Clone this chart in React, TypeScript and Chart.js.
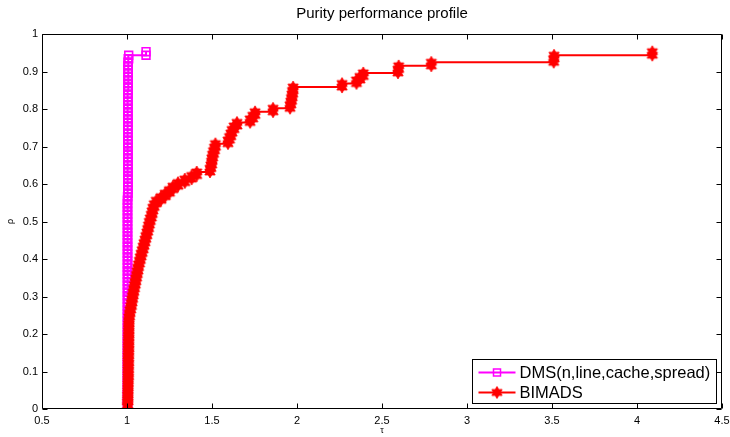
import React, { useEffect, useRef } from 'react';
import { Chart, registerables } from 'chart.js';

Chart.register(...registerables);

const TITLE = 'Purity performance profile';
const X_LABEL = 'τ';
const Y_LABEL = 'ρ';
const SERIES_NAMES = ['DMS(n,line,cache,spread)', 'BIMADS'];
const SERIES_COLORS = ['#ff00ff', '#ff0000'];
const X_TICKS = [0.5, 1, 1.5, 2, 2.5, 3, 3.5, 4, 4.5];
const Y_TICKS = [0, 0.1, 0.2, 0.3, 0.4, 0.5, 0.6, 0.7, 0.8, 0.9, 1];

// fraction of problems solved (rho) for problem k = 1..101
const rhoLevels = [
  0.0094, 0.0189, 0.0283, 0.0377, 0.0472, 0.0566, 0.0660, 0.0755, 0.0849, 0.0943,
  0.1038, 0.1132, 0.1226, 0.1321, 0.1415, 0.1509, 0.1604, 0.1698, 0.1792, 0.1887,
  0.1981, 0.2075, 0.2170, 0.2264, 0.2358, 0.2453, 0.2547, 0.2642, 0.2736, 0.2830,
  0.2925, 0.3019, 0.3113, 0.3208, 0.3302, 0.3396, 0.3491, 0.3585, 0.3679, 0.3774,
  0.3868, 0.3962, 0.4057, 0.4151, 0.4245, 0.4340, 0.4434, 0.4528, 0.4623, 0.4717,
  0.4811, 0.4906, 0.5000, 0.5094, 0.5189, 0.5283, 0.5377, 0.5472, 0.5566, 0.5660,
  0.5755, 0.5849, 0.5943, 0.6038, 0.6132, 0.6226, 0.6321, 0.6415, 0.6509, 0.6604,
  0.6698, 0.6792, 0.6887, 0.6981, 0.7075, 0.7170, 0.7264, 0.7358, 0.7453, 0.7547,
  0.7642, 0.7736, 0.7830, 0.7925, 0.8019, 0.8113, 0.8208, 0.8302, 0.8396, 0.8491,
  0.8585, 0.8679, 0.8774, 0.8868, 0.8962, 0.9057, 0.9151, 0.9245, 0.9340, 0.9434,
  0.9528,
];

// performance ratio (tau) at which each level is reached
const dmsTau = [
  1.003, 1.003, 1.003, 1.003, 1.003, 1.003, 1.003, 1.003, 1.003, 1.003,
  1.003, 1.003, 1.003, 1.003, 1.003, 1.003, 1.003, 1.003, 1.003, 1.003,
  1.003, 1.003, 1.003, 1.003, 1.003, 1.003, 1.003, 1.003, 1.003, 1.003,
  1.003, 1.003, 1.003, 1.003, 1.003, 1.003, 1.003, 1.003, 1.003, 1.003,
  1.003, 1.003, 1.003, 1.003, 1.003, 1.003, 1.003, 1.003, 1.003, 1.003,
  1.003, 1.003, 1.003, 1.003, 1.003, 1.003, 1.003, 1.003, 1.003, 1.003,
  1.005, 1.005, 1.005, 1.005, 1.005, 1.005, 1.005, 1.005, 1.005, 1.005,
  1.005, 1.005, 1.005, 1.005, 1.005, 1.005, 1.005, 1.005, 1.005, 1.005,
  1.005, 1.005, 1.005, 1.005, 1.005, 1.005, 1.005, 1.005, 1.005, 1.005,
  1.007, 1.007, 1.007, 1.007, 1.007, 1.007, 1.007, 1.007, 1.007, 1.010,
  1.112,
];

const bimadsTau = [
  1.004, 1.004, 1.005, 1.005, 1.005, 1.006, 1.006, 1.006, 1.007, 1.007,
  1.007, 1.007, 1.008, 1.008, 1.008, 1.008, 1.009, 1.009, 1.009, 1.009,
  1.010, 1.010, 1.010, 1.011, 1.011, 1.012, 1.014, 1.018, 1.022, 1.026,
  1.029, 1.033, 1.036, 1.040, 1.044, 1.048, 1.052, 1.056, 1.060, 1.064,
  1.068, 1.073, 1.078, 1.083, 1.089, 1.095, 1.100, 1.106, 1.111, 1.117,
  1.122, 1.127, 1.131, 1.137, 1.143, 1.148, 1.152, 1.160, 1.172, 1.200,
  1.225, 1.250, 1.270, 1.300, 1.340, 1.380, 1.410, 1.488, 1.494, 1.498,
  1.500, 1.504, 1.509, 1.515, 1.520, 1.594, 1.603, 1.611, 1.618, 1.630,
  1.647, 1.724, 1.740, 1.753, 1.859, 1.959, 1.964, 1.968, 1.971, 1.974,
  1.977, 2.265, 2.350, 2.370, 2.390, 2.594, 2.598, 2.790, 3.510, 3.512,
  4.090,
];

const FONT = '"Liberation Sans", Arial, Helvetica, sans-serif';

// MATLAB-style stairs expansion: vertices of the step curve
function stairs(tau: number[], rho: number[]) {
  const pts: { x: number; y: number }[] = [{ x: tau[0], y: rho[0] }];
  for (let i = 1; i < tau.length; i++) {
    pts.push({ x: tau[i], y: rho[i - 1] });
    pts.push({ x: tau[i], y: rho[i] });
  }
  return pts;
}

function makeHexagram(color: string, R: number) {
  const s = Math.ceil(R * 2 + 2);
  const c = document.createElement('canvas');
  c.width = s;
  c.height = s;
  const g = c.getContext('2d')!;
  const cx = s / 2;
  const cy = s / 2;
  const r = R / Math.sqrt(3);
  g.beginPath();
  for (let i = 0; i < 12; i++) {
    const ang = -Math.PI / 2 + (i * Math.PI) / 6;
    const rad = i % 2 === 0 ? R : r;
    const px = cx + rad * Math.cos(ang);
    const py = cy + rad * Math.sin(ang);
    if (i === 0) g.moveTo(px, py);
    else g.lineTo(px, py);
  }
  g.closePath();
  g.fillStyle = color;
  g.fill();
  g.strokeStyle = color;
  g.lineWidth = 0.8;
  g.stroke();
  return c;
}

export default function App() {
  const ref = useRef<HTMLCanvasElement>(null);

  useEffect(() => {
    const canvas = ref.current!;
    const hex = makeHexagram(SERIES_COLORS[1], 6);

    const framePlugin = {
      id: 'matlabFrame',
      afterLayout(chart: any) {
        const t = chart.titleBlock;
        if (t) {
          t.left = chart.chartArea.left;
          t.right = chart.chartArea.right;
          t.width = t.right - t.left;
        }
      },
      afterDraw(chart: any) {
        const { ctx, chartArea: a, scales } = chart;
        const L = Math.round(a.left) + 0.5;
        const R = Math.round(a.right) - 0.5;
        const T = Math.round(a.top) + 0.5;
        const B = Math.round(a.bottom) - 0.5;
        const TL = 5;
        ctx.save();
        ctx.strokeStyle = '#000';
        ctx.lineWidth = 1;
        ctx.beginPath();
        ctx.rect(L, T, R - L, B - T);
        for (const v of X_TICKS) {
          const px = Math.round(scales.x.getPixelForValue(v)) + 0.5;
          ctx.moveTo(px, B);
          ctx.lineTo(px, B - TL);
          ctx.moveTo(px, T);
          ctx.lineTo(px, T + TL);
        }
        for (const v of Y_TICKS) {
          const py = Math.round(scales.y.getPixelForValue(v)) + 0.5;
          ctx.moveTo(L, py);
          ctx.lineTo(L + TL, py);
          ctx.moveTo(R, py);
          ctx.lineTo(R - TL, py);
        }
        ctx.stroke();

        // legend box (MATLAB "southeast")
        const bw = 244;
        const bh = 44;
        const bx = Math.round(a.right) - 6 - bw + 0.5;
        const by = Math.round(a.bottom) - 6 - bh + 0.5;
        ctx.fillStyle = '#fff';
        ctx.fillRect(bx, by, bw, bh);
        ctx.strokeStyle = '#000';
        ctx.lineWidth = 1;
        ctx.strokeRect(bx, by, bw, bh);
        const rows = [by + 13, by + 33];
        const lx0 = bx + 6;
        const lx1 = bx + 43;
        const mx = (lx0 + lx1) / 2;
        rows.forEach((ry, i) => {
          ctx.strokeStyle = SERIES_COLORS[i];
          ctx.lineWidth = 2;
          ctx.beginPath();
          ctx.moveTo(lx0, ry);
          ctx.lineTo(lx1, ry);
          ctx.stroke();
          if (i === 0) {
            ctx.lineWidth = 1.5;
            ctx.strokeRect(mx - 3.5, ry - 3.5, 7, 7);
          } else {
            ctx.drawImage(hex, mx - hex.width / 2, ry - hex.height / 2);
          }
          ctx.fillStyle = '#000';
          ctx.font = '16.5px ' + FONT;
          ctx.textAlign = 'left';
          ctx.textBaseline = 'middle';
          ctx.fillText(SERIES_NAMES[i], bx + 47, ry + 1);
        });
        ctx.restore();
      },
    };

    const zeroPad = (scale: any) => {
      scale.paddingTop = 0;
      scale.paddingBottom = 0;
      scale.paddingLeft = 0;
      scale.paddingRight = 0;
    };

    const chart = new Chart(canvas, {
      type: 'line',
      data: {
        datasets: [
          {
            label: SERIES_NAMES[0],
            data: stairs(dmsTau, rhoLevels),
            borderColor: SERIES_COLORS[0],
            backgroundColor: SERIES_COLORS[0],
            borderWidth: 2,
            pointStyle: 'rect',
            pointRadius: 5.5,
            pointBorderWidth: 1.6,
            pointBorderColor: SERIES_COLORS[0],
            pointBackgroundColor: 'rgba(0,0,0,0)',
            tension: 0,
            fill: false,
            order: 2,
          },
          {
            label: SERIES_NAMES[1],
            data: stairs(bimadsTau, rhoLevels),
            borderColor: SERIES_COLORS[1],
            backgroundColor: SERIES_COLORS[1],
            borderWidth: 2,
            pointStyle: hex as any,
            pointRadius: 5,
            tension: 0,
            fill: false,
            order: 1,
          },
        ],
      },
      options: {
        animation: false,
        responsive: false,
        devicePixelRatio: 1,
        events: [],
        layout: { padding: { left: 0, right: 8, top: 0, bottom: 0 } },
        plugins: {
          legend: { display: false },
          tooltip: { enabled: false },
          title: {
            display: true,
            text: TITLE,
            color: '#000',
            font: { size: 15, family: FONT, weight: 'normal' },
            padding: { top: 5, bottom: 11 },
          },
        },
        scales: {
          x: {
            type: 'linear',
            min: 0.5,
            max: 4.5,
            grid: { display: false, drawTicks: false },
            border: { display: false },
            afterBuildTicks: (s: any) => {
              s.ticks = X_TICKS.map((v) => ({ value: v }));
            },
            afterFit: (s: any) => {
              s.height = 28;
              zeroPad(s);
            },
            ticks: {
              autoSkip: false,
              maxRotation: 0,
              padding: 5,
              color: '#000',
              font: { size: 11, family: FONT },
              callback: (v: any) => String(Math.round(Number(v) * 10) / 10),
            },
            title: {
              display: true,
              text: X_LABEL,
              color: '#000',
              font: { size: 9, family: FONT },
              padding: { top: 0, bottom: 1 },
            },
          },
          y: {
            type: 'linear',
            min: 0,
            max: 1,
            grid: { display: false, drawTicks: false },
            border: { display: false },
            afterBuildTicks: (s: any) => {
              s.ticks = Y_TICKS.map((v) => ({ value: v }));
            },
            afterFit: (s: any) => {
              s.width = 42;
              zeroPad(s);
            },
            ticks: {
              autoSkip: false,
              padding: 4,
              color: '#000',
              font: { size: 11, family: FONT },
              callback: (v: any) => String(Math.round(Number(v) * 10) / 10),
            },
            title: {
              display: true,
              text: Y_LABEL,
              color: '#000',
              font: { size: 9, family: FONT },
              padding: { top: 5, bottom: 0 },
            },
          },
        },
      },
      plugins: [framePlugin],
    });

    return () => chart.destroy();
  }, []);

  return (
    <div style={{ position: 'absolute', left: 0, top: 0, width: 730, height: 437, background: '#fff' }}>
      <canvas ref={ref} width={730} height={437} style={{ display: 'block', width: 730, height: 437 }} />
    </div>
  );
}
